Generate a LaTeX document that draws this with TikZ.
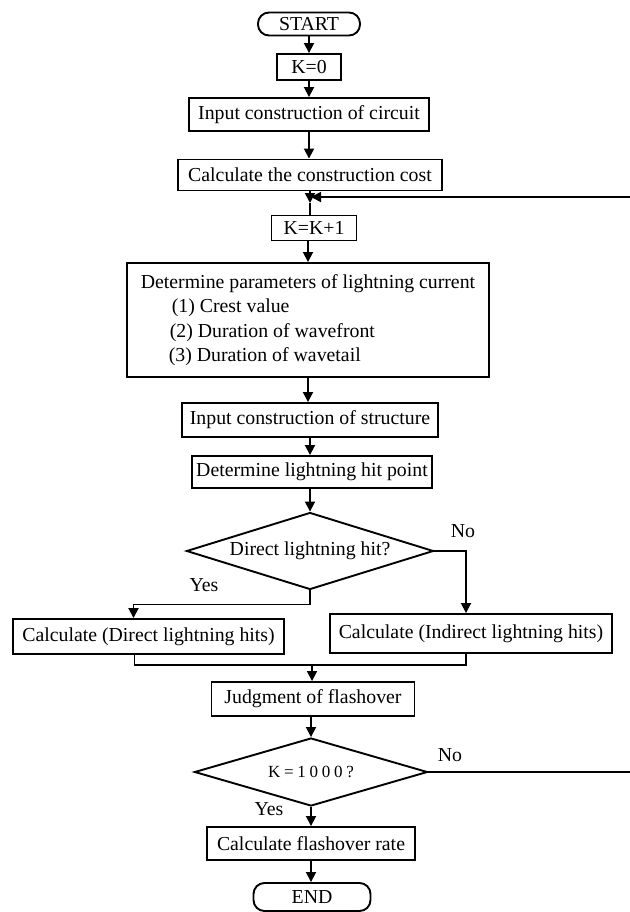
\documentclass[tikz,border=0pt]{standalone}
\usepackage{fontspec}
\setmainfont{Liberation Serif}
\usetikzlibrary{arrows.meta,shapes.geometric}
\newcommand\myfs{\fontsize{19.8}{24.5}\selectfont}
\newcommand\myfsk{\fontsize{17}{20}\selectfont\addfontfeature{LetterSpace=22}}
\begin{document}
\begin{tikzpicture}[x=1pt,y=-1pt,
  box/.style={draw, line width=1.9pt, inner sep=0pt, align=center, font=\myfs},
  term/.style={box, rounded corners=11pt},
  dec/.style={diamond, draw, line width=1.9pt, inner sep=0pt, font=\myfs},
  arr/.style={line width=1.8pt, -{Triangle[length=10pt,width=10pt]}},
  ln/.style={line width=1.8pt},
  lbl/.style={font=\myfs, inner sep=0pt}]
\useasboundingbox (0,0) rectangle (629,912);

\node[term, minimum width=102pt, minimum height=23pt] (start) at (309,24) {START};
\node[box, minimum width=64pt, minimum height=26pt] (k0) at (309,67) {K=0};
\node[box, minimum width=240pt, minimum height=33pt] (inc) at (309,114.5) {Input construction of circuit};
\node[box, minimum width=264pt, minimum height=31pt] (cost) at (310,175) {Calculate the construction cost};
\coordinate (jn) at (310,197);
\coordinate (jd) at (310,203);
\node[box, minimum width=85pt, minimum height=25pt] (kk) at (314,228) {K=K+1};
\node[box, minimum width=362pt, minimum height=114pt, align=left] (par) at (308,320)
  {Determine parameters of lightning current\\
   \hspace*{31pt}(1) Crest value\\
   \hspace*{29pt}(2) Duration of wavefront\\
   \hspace*{28pt}(3) Duration of wavetail};
\node[box, minimum width=256pt, minimum height=34pt] (ins) at (310,420) {Input construction of structure};
\node[box, minimum width=240pt, minimum height=32pt] (hit) at (312,472) {Determine lightning hit point};
\node[dec, minimum width=247pt, minimum height=77pt, shape aspect=3.2] (d1) at (310,551) {Direct lightning hit?};
\node[box, minimum width=271pt, minimum height=35pt] (dir) at (148.5,636.5) {Calculate (Direct lightning hits)};
\node[box, minimum width=282pt, minimum height=39pt] (ind) at (471,633.5) {Calculate (Indirect lightning hits)};
\node[box, minimum width=203pt, minimum height=34pt] (judg) at (313,699) {Judgment of flashover};
\node[dec, minimum width=233pt, minimum height=68pt, shape aspect=3.4] (d2) at (311,772) {\myfsk K=1000?};
\node[box, minimum width=208pt, minimum height=33pt] (rate) at (311,843.5) {Calculate flashover rate};
\node[term, minimum width=117pt, minimum height=28pt] (end) at (312,897) {END};

\node[lbl] (no1) at (463,531) {No};
\node[lbl] (yes1) at (204,585) {Yes};
\node[lbl] (no2) at (450,755) {No};
\node[lbl] (yes2) at (269,809) {Yes};

\draw[arr] (start.south) -- (start.south |- k0.north);
\draw[arr] (k0.south) -- (k0.south |- inc.north);
\draw[arr] (inc.south) -- (inc.south |- cost.north);
\draw[arr] (cost.south) -- (jd);
\draw[ln] (jd) -- (jd |- kk.north);
\draw[arr] (kk.south -| par.north) -- (par.north);
\draw[arr] (par.south) -- (par.south |- ins.north);
\draw[arr] (ins.south) -- (ins.south |- hit.north);
\draw[arr] (hit.south -| d1.north) -- (d1.north);
\draw[arr] (d1.south) -- ++(0,14) -| ([xshift=-15pt]dir.north);
\draw[arr] (d1.east) -| ([xshift=-5pt]ind.north);
\coordinate (mj) at (312,665);
\draw[ln] ([xshift=-14pt]dir.south) |- (mj) -| ([xshift=-5pt]ind.south);
\draw[arr] (mj) -- (mj |- judg.north);
\draw[arr] (judg.south -| d2.north) -- (d2.north);
\draw[arr] (d2.south) -- (d2.south |- rate.north);
\draw[arr] (rate.south) -- (rate.south |- end.north);
\coordinate (far) at (640,197);
\draw[arr] (d2.east) -| (far) -- ([xshift=1pt]jn);
\end{tikzpicture}
\end{document}
